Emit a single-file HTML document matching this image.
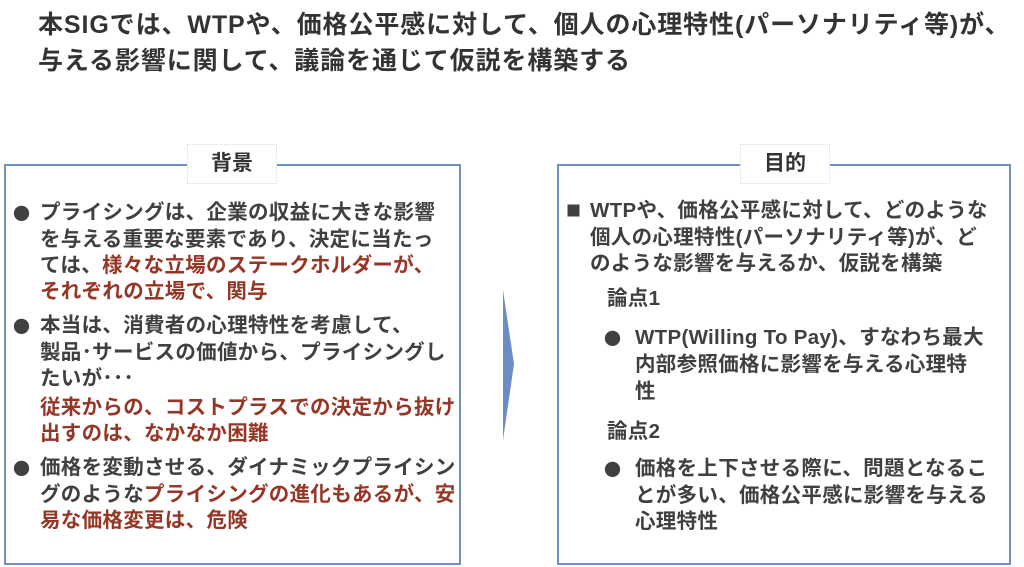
<!DOCTYPE html>
<html style="height:567px;overflow:hidden"><head><meta charset="utf-8"><style>
body{margin:0;width:1024px;height:567px;background:#fff;position:relative;overflow:hidden;font-family:"Liberation Sans","Noto Sans CJK JP",sans-serif;color:#404040;font-weight:bold}
.l{position:absolute;font-size:20.5px;line-height:26px;white-space:nowrap;letter-spacing:0.3px}
.b{position:absolute;font-family:"Noto Sans CJK JP",sans-serif;font-size:17px;line-height:26px}
.r{color:#963626}
.box{position:absolute;border:2px solid #7090c8;}
.lab{position:absolute;background:#fff;font-size:21px;line-height:38px;text-align:center;border:1px dotted #ddd;color:#333}
</style></head><body>
<div class="l" style="left:38px;top:6px;font-size:25px;line-height:38px;color:#333;letter-spacing:0.9px">本SIGでは、WTPや、価格公平感に対して、個人の心理特性(パーソナリティ等)が、</div>
<div class="l" style="left:38px;top:42px;font-size:25px;line-height:38px;color:#333;letter-spacing:0.9px">与える影響に関して、議論を通じて仮説を構築する</div>

<div class="box" style="left:4px;top:164px;width:453px;height:397px"></div>
<div class="lab" style="left:187px;top:144px;width:88px">背景</div>
<div class="box" style="left:557px;top:164px;width:450px;height:397px"></div>
<div class="lab" style="left:740px;top:144px;width:88px">目的</div>

<svg style="position:absolute;left:500px;top:288px" width="20" height="155"><polygon points="3,2 14,76 3,152" fill="#6c8cc6"/></svg>

<div class="b" style="left:13px;top:200px">●</div>
<div class="l" style="left:40px;top:200px">プライシングは、企業の収益に大きな影響</div>
<div class="l" style="left:40px;top:227px">を与える重要な要素であり、決定に当たっ</div>
<div class="l" style="left:40px;top:253px">ては、<span class="r">様々な立場のステークホルダーが、</span></div>
<div class="l r" style="left:40px;top:279px">それぞれの立場で、関与</div>
<div class="b" style="left:13px;top:313px">●</div>
<div class="l" style="left:40px;top:313px">本当は、消費者の心理特性を考慮して、</div>
<div class="l" style="left:40px;top:340px">製品･サービスの価値から、プライシングし</div>
<div class="l" style="left:40px;top:366px">たいが･･･</div>
<div class="l r" style="left:40px;top:395px">従来からの、コストプラスでの決定から抜け</div>
<div class="l r" style="left:40px;top:421px">出すのは、なかなか困難</div>
<div class="b" style="left:13px;top:455px">●</div>
<div class="l" style="left:40px;top:455px">価格を変動させる、ダイナミックプライシン</div>
<div class="l" style="left:40px;top:482px">グのような<span class="r">プライシングの進化もあるが、安</span></div>
<div class="l r" style="left:40px;top:508px">易な価格変更は、危険</div>

<div class="b" style="left:566px;top:198px;font-size:15px">■</div>
<div class="l" style="left:590px;top:198px">WTPや、価格公平感に対して、どのような</div>
<div class="l" style="left:590px;top:225px">個人の心理特性(パーソナリティ等)が、ど</div>
<div class="l" style="left:590px;top:251px">のような影響を与えるか、仮説を構築</div>
<div class="l" style="left:607px;top:286px">論点1</div>
<div class="b" style="left:604px;top:325px">●</div>
<div class="l" style="left:635px;top:325px">WTP(Willing To Pay)、すなわち最大</div>
<div class="l" style="left:635px;top:352px">内部参照価格に影響を与える心理特</div>
<div class="l" style="left:635px;top:379px">性</div>
<div class="l" style="left:607px;top:419px">論点2</div>
<div class="b" style="left:604px;top:456px">●</div>
<div class="l" style="left:635px;top:456px">価格を上下させる際に、問題となるこ</div>
<div class="l" style="left:635px;top:483px">とが多い、価格公平感に影響を与える</div>
<div class="l" style="left:635px;top:509px">心理特性</div>
</body></html>
